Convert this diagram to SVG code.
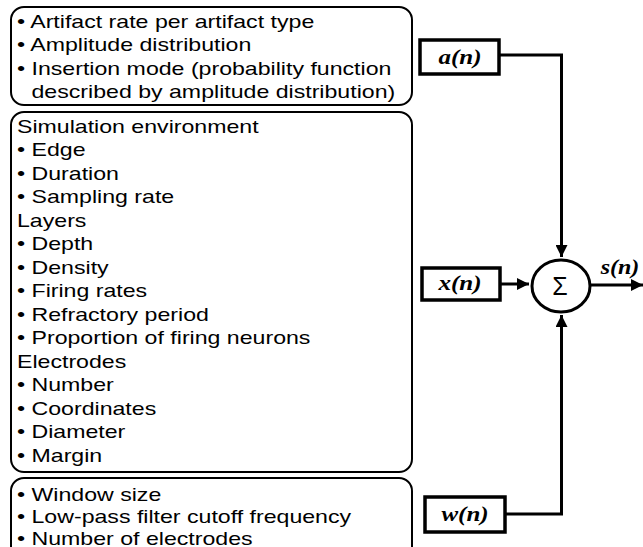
<svg xmlns="http://www.w3.org/2000/svg" width="643" height="547" viewBox="0 0 643 547">
<defs>
<style>
.panel{fill:none;stroke:#000;stroke-width:2}
.sig{fill:#fff;stroke:#000;stroke-width:3.5}
.conn{fill:none;stroke:#000;stroke-width:3}
.t{font-family:"Liberation Sans",Arial,sans-serif;font-size:18.5px;fill:#000}
.v{font-family:"Liberation Serif","Times New Roman",serif;font-size:20px;font-weight:bold;font-style:italic;fill:#000;text-anchor:middle}
.sum{font-family:"Liberation Sans",Arial,sans-serif;font-size:25px;fill:#000;text-anchor:middle}
</style>
<marker id="ah" viewBox="0 0 10 10" refX="10" refY="5" markerWidth="4" markerHeight="4" orient="auto" markerUnits="strokeWidth">
<path d="M0,0 L10,5 L0,10 z" fill="#000"/>
</marker>
</defs>

<g id="artifact-params">
<rect class="panel" x="11" y="7" width="401" height="98" rx="13"/>
<g class="t" transform="scale(1.25,1)">
<text x="13.6" y="28">• Artifact rate per artifact type</text>
<text x="13.6" y="51.5">• Amplitude distribution</text>
<text x="13.6" y="75">• Insertion mode (probability function</text>
<text x="25.2" y="98.5">described by amplitude distribution)</text>
</g>
</g>

<g id="simulation-params">
<rect class="panel" x="11" y="112" width="401" height="360" rx="13"/>
<g class="t" transform="scale(1.25,1)">
<text x="13.6" y="133">Simulation environment</text>
<text x="13.6" y="156.5">• Edge</text>
<text x="13.6" y="180">• Duration</text>
<text x="13.6" y="203.5">• Sampling rate</text>
<text x="13.6" y="227">Layers</text>
<text x="13.6" y="250.5">• Depth</text>
<text x="13.6" y="274">• Density</text>
<text x="13.6" y="297.5">• Firing rates</text>
<text x="13.6" y="321">• Refractory period</text>
<text x="13.6" y="344.5">• Proportion of firing neurons</text>
<text x="13.6" y="368">Electrodes</text>
<text x="13.6" y="391.5">• Number</text>
<text x="13.6" y="415">• Coordinates</text>
<text x="13.6" y="438.5">• Diameter</text>
<text x="13.6" y="462">• Margin</text>
</g>
</g>

<g id="noise-params">
<rect class="panel" x="11" y="478" width="401" height="90" rx="13"/>
<g class="t" transform="scale(1.25,1)">
<text x="13.6" y="501">• Window size</text>
<text x="13.6" y="523.5">• Low-pass filter cutoff frequency</text>
<text x="13.6" y="545">• Number of electrodes</text>
</g>
</g>

<g id="a-n">
<rect class="sig" x="420" y="40" width="79" height="34"/>
<text class="v" transform="translate(460,64) scale(1.25,1)">a(n)</text>
</g>

<g id="x-n">
<rect class="sig" x="422" y="268" width="78" height="32"/>
<text class="v" transform="translate(460,290) scale(1.25,1)">x(n)</text>
</g>

<g id="w-n">
<rect class="sig" x="425" y="497" width="80" height="35"/>
<text class="v" transform="translate(465,521) scale(1.25,1)">w(n)</text>
</g>

<g id="sum">
<ellipse cx="561" cy="286" rx="29" ry="26" fill="#fff" stroke="#000" stroke-width="3"/>
<text class="sum" x="560" y="295">Σ</text>
</g>

<g id="s-n-label">
<text class="v" transform="translate(620,274) scale(1.2,1)">s(n)</text>
</g>

<g id="connectors">
<path class="conn" d="M499,55 H561.5 V257" marker-end="url(#ah)"/>
<path class="conn" d="M500,284 H529" marker-end="url(#ah)"/>
<path class="conn" d="M505,514 H561.5 V315" marker-end="url(#ah)"/>
<path class="conn" d="M590,285 H643" marker-end="url(#ah)"/>
</g>
</svg>
